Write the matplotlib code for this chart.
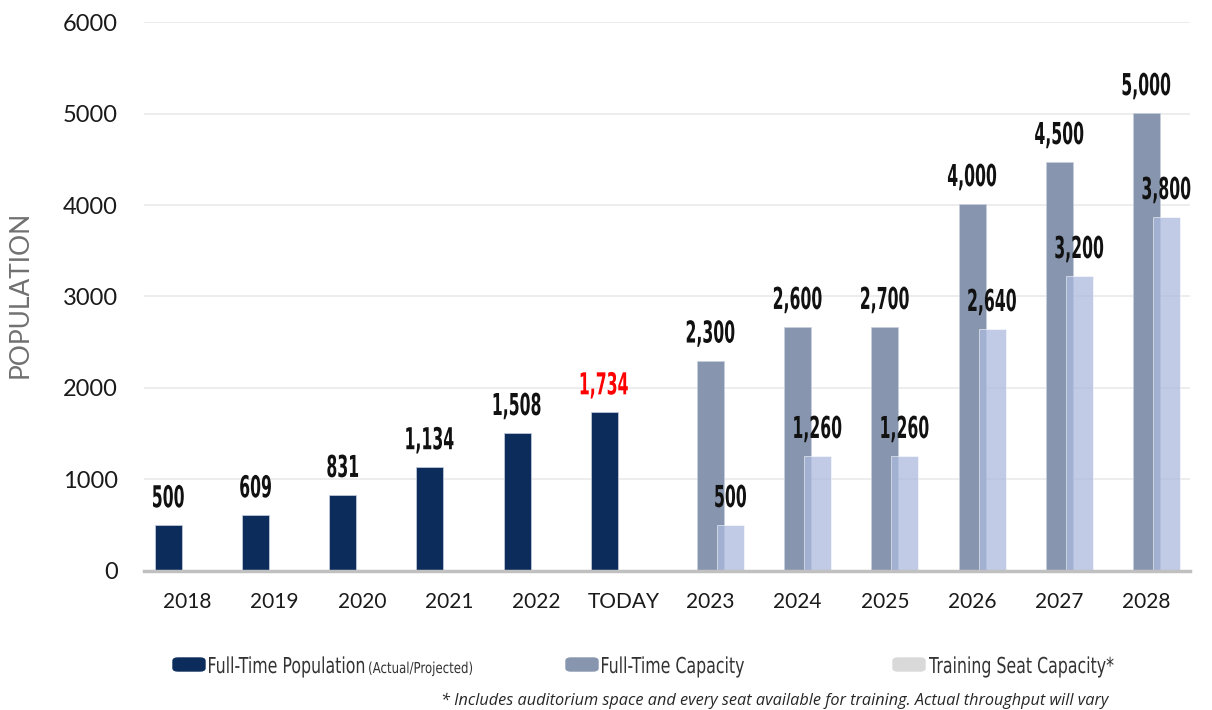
import numpy as np
import matplotlib.pyplot as plt
from matplotlib.patches import FancyBboxPatch, PathPatch
from matplotlib.textpath import TextPath
from matplotlib.font_manager import FontProperties
from matplotlib.transforms import Affine2D

# categories along the x axis
categories = ['2018', '2019', '2020', '2021', '2022', 'TODAY',
              '2023', '2024', '2025', '2026', '2027', '2028']

# full-time population (actual / projected), first six categories
population = [500, 609, 831, 1134, 1508, 1734]
population_labels = ['500', '609', '831', '1,134', '1,508', '1,734']

# full-time capacity and training seat capacity, last six categories
capacity = [2300, 2667, 2667, 4011, 4470, 5005]
capacity_labels = ['2,300', '2,600', '2,700', '4,000', '4,500', '5,000']
training = [503, 1257, 1257, 2645, 3224, 3869]
training_labels = ['500', '1,260', '1,260', '2,640', '3,200', '3,800']

navy = '#0c2d5c'
steel = '#8796ae'
pale = '#acbade'

fig = plt.figure(figsize=(12.12, 7.1), dpi=100)
ax = fig.add_axes([0.1188, 0.1958, 0.863, 0.7732])


def condensed(px, py, s, cap_px, squeeze, color, weight='bold', ha='center'):
    # tall narrow text: a glyph path squeezed sideways, placed in pixels
    tp = TextPath((0, 0), s, size=1,
                  prop=FontProperties(family='DejaVu Sans', weight=weight))
    ext = tp.get_extents()
    k = cap_px / 0.729
    dx = -(ext.x0 + ext.width / 2) if ha == 'center' else -ext.x0
    tr = Affine2D().translate(dx, 0).scale(k * squeeze, k).translate(px, py)
    p = PathPatch(tp, transform=tr, facecolor=color, edgecolor='none', zorder=5)
    fig.add_artist(p)
    return px + (ext.width if ha != 'center' else ext.width / 2) * k * squeeze


x = np.arange(len(categories))
w = 0.31
x_pop = x[:6] - 0.22
x_cap = x[6:]
x_trn = x[6:] + 0.23

ax.bar(x_pop, population, width=w, color=navy, edgecolor='#c8d0e0', linewidth=0.5, zorder=3)
ax.bar(x_cap, capacity, width=w, color=steel, edgecolor='#c8d0e0', linewidth=0.5, zorder=3)
ax.bar(x_trn, training, width=w, color=pale, alpha=0.75, edgecolor='white', linewidth=0.5, zorder=4)

ax.set_xlim(-0.5, 11.5)
ax.set_ylim(0, 6000)
ax.set_yticks(range(0, 6001, 1000))
ax.set_xticks(x)
ax.set_xticklabels(categories)
ax.tick_params(axis='y', length=0, pad=19, labelsize=17, labelcolor='#1a1a1a')
ax.tick_params(axis='x', length=0, pad=15, labelsize=15, labelcolor='#1a1a1a')
for lab in ax.get_xticklabels() + ax.get_yticklabels():
    lab.set_family('Lato')

ax.grid(axis='y', color='#ececec', linewidth=1.3, zorder=0)
ax.set_axisbelow(True)
for s in ['top', 'right', 'left']:
    ax.spines[s].set_visible(False)
ax.spines['bottom'].set_color('#c0c0c0')
ax.spines['bottom'].set_linewidth(2.5)
ax.spines['bottom'].set_zorder(6)

ax.set_ylabel('POPULATION', family='Lato', fontsize=19, color='#707070')
ax.yaxis.set_label_coords(-0.106, 0.503)

# value labels above the bars
def put_labels(xs, vals, labels, colors=None):
    for i, (xx, v, s) in enumerate(zip(xs, vals, labels)):
        c = colors[i] if colors else '#111111'
        px, py = ax.transData.transform((xx, v))
        condensed(px, py + 18, s, 22, 0.52, c)

put_labels(x_pop, population, population_labels,
           ['#111111'] * 5 + ['#ff0000'])
put_labels(x_cap, capacity, capacity_labels)
put_labels(x_trn, training, training_labels)

# legend drawn by hand along the bottom
W, H = 1212.0, 710.0
legend_items = [(173, navy, 'Full-Time Population'),
                (566, steel, 'Full-Time Capacity'),
                (893, '#d9d9d9', 'Training Seat Capacity*')]
for px, col, txt in legend_items:
    fig.add_artist(FancyBboxPatch((px / W, 1 - 671 / H), 32 / W, 13 / H,
                                  boxstyle='round,pad=0,rounding_size=0.004',
                                  transform=fig.transFigure, color=col))
    end = condensed(px + 36, H - 673, txt, 16, 0.72, '#333333',
                    weight='normal', ha='left')
    if txt.startswith('Full-Time Pop'):
        condensed(end + 5, H - 673, '(Actual/Projected)', 11, 0.78, '#333333',
                  weight='normal', ha='left')

fig.text(1108 / W, 1 - 701 / H,
         '* Includes auditorium space and every seat available for training. '
         'Actual throughput will vary',
         family='Open Sans', style='italic', fontsize=11.7, color='#262626',
         ha='right', va='center')

fig.savefig('out.png', dpi=100)
